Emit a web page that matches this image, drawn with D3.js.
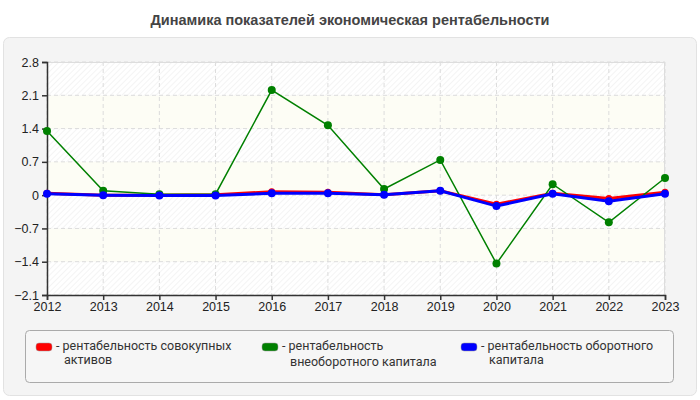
<!DOCTYPE html>
<html>
<head>
<meta charset="utf-8">
<script src="https://cdn.jsdelivr.net/npm/d3@7"></script>
<style>
  body { margin: 0; background: #fff; }
  svg { display: block; font-family: "Liberation Sans", Arial, sans-serif; }
</style>
</head>
<body>
<svg width="700" height="400"></svg>
<script>
// chart data
const years = ["2012", "2013", "2014", "2015", "2016", "2017", "2018", "2019", "2020", "2021", "2022", "2023"];
const totalAssets = [0.04, 0.0, 0.0, 0.01, 0.07, 0.06, 0.01, 0.09, -0.19, 0.04, -0.07, 0.06];
const fixedCapital = [1.35, 0.09, 0.02, 0.02, 2.21, 1.47, 0.13, 0.74, -1.44, 0.23, -0.57, 0.36];
const workingCapital = [0.03, 0.0, -0.01, -0.01, 0.04, 0.04, 0.01, 0.09, -0.23, 0.03, -0.13, 0.03];
const yTicks = [-2.1, -1.4, -0.7, 0, 0.7, 1.4, 2.1, 2.8];
const seriesNames = ["рентабельность совокупных|активов", "рентабельность|внеоборотного капитала", "рентабельность оборотного|капитала"];

const series = [
  { values: totalAssets, color: "#ff0000", width: 3, r: 3.5 },
  { values: fixedCapital, color: "#008000", width: 1.5, r: 4 },
  { values: workingCapital, color: "#0000ff", width: 3, r: 4 }
];

const svg = d3.select("svg");

// hatch pattern for the striped bands
const defs = svg.append("defs");
const pat = defs.append("pattern")
  .attr("id", "hatch")
  .attr("patternUnits", "userSpaceOnUse")
  .attr("width", 4).attr("height", 4)
  .attr("patternTransform", "rotate(45)");
pat.append("rect").attr("width", 4).attr("height", 4).attr("fill", "#ffffff");
pat.append("line").attr("x1", 0).attr("y1", 0).attr("x2", 0).attr("y2", 4)
  .attr("stroke", "#eeeeee").attr("stroke-width", 1.2);

// title
svg.append("text")
  .attr("x", 350).attr("y", 25)
  .attr("text-anchor", "middle")
  .style("font-size", "14.5px").style("font-weight", "bold").style("fill", "#444")
  .text("Динамика показателей экономическая рентабельности");

// outer panel
svg.append("rect")
  .attr("x", 3.5).attr("y", 37.5).attr("width", 693).attr("height", 358)
  .attr("rx", 6)
  .attr("fill", "#f4f4f4").attr("stroke", "#e2e2e2");

const margin = { left: 47, top: 62, right: 35, bottom: 105 };
const w = 700 - margin.left - margin.right;
const h = 400 - margin.top - margin.bottom;

const x = d3.scalePoint().domain(years).range([0, w]);
const y = d3.scaleLinear().domain([-2.1, 2.8]).range([h, 0]);

const graf = svg.append("g").attr("transform", `translate(${margin.left},${margin.top})`);

// alternating bands
d3.pairs(yTicks).forEach((p, i) => {
  graf.append("rect")
    .attr("x", 0).attr("y", y(p[1]))
    .attr("width", w).attr("height", y(p[0]) - y(p[1]))
    .attr("fill", i % 2 === 0 ? "url(#hatch)" : "#fdfdf5");
});

// grid
graf.selectAll(".hgrid").data(yTicks).enter().append("line")
  .attr("x1", 0).attr("x2", w)
  .attr("y1", d => y(d)).attr("y2", d => y(d))
  .attr("stroke", "#dcdcdc").attr("stroke-dasharray", "4,3");
graf.selectAll(".vgrid").data(years).enter().append("line")
  .attr("x1", d => x(d)).attr("x2", d => x(d))
  .attr("y1", 0).attr("y2", h)
  .attr("stroke", "#dcdcdc").attr("stroke-dasharray", "4,3");
graf.append("line").attr("x1", 0).attr("x2", w).attr("y1", 0.5).attr("y2", 0.5).attr("stroke", "#dddddd");
graf.append("line").attr("x1", w - 0.5).attr("x2", w - 0.5).attr("y1", 0).attr("y2", h).attr("stroke", "#dddddd");

// axes
const xAxis = graf.append("g").attr("transform", `translate(0,${h})`)
  .call(d3.axisBottom(x).tickSize(5).tickPadding(2));
const yAxis = graf.append("g")
  .call(d3.axisLeft(y).tickValues(yTicks).tickSize(5).tickPadding(3).tickFormat(d => d3.format("")(+d.toFixed(1))));
[xAxis, yAxis].forEach(a => {
  a.selectAll("path, line").attr("stroke", "#333").attr("stroke-width", 1.5);
  a.selectAll("text").style("font-size", "12.5px").style("fill", "#222")
    .style("font-family", "'Liberation Sans', Arial, sans-serif");
});

// lines and markers
const line = d3.line().x((d, i) => x(years[i])).y(d => y(d));
series.forEach(s => {
  graf.append("path")
    .datum(s.values)
    .attr("d", line)
    .attr("fill", "none")
    .attr("stroke", s.color)
    .attr("stroke-width", s.width);
  graf.selectAll(null).data(s.values).enter().append("circle")
    .attr("cx", (d, i) => x(years[i]))
    .attr("cy", d => y(d))
    .attr("r", s.r)
    .attr("fill", s.color);
});

// legend
svg.append("rect")
  .attr("x", 25.5).attr("y", 330.5).attr("width", 648).attr("height", 52)
  .attr("rx", 4)
  .attr("fill", "#f6f6f6").attr("stroke", "#aaaaaa");
const legendX = [36, 262, 461];
const secondLineY = [23, 25, 23];
seriesNames.forEach((name, i) => {
  const g = svg.append("g").attr("transform", `translate(${legendX[i]},341)`);
  g.append("rect").attr("x", 0).attr("y", 2).attr("width", 16).attr("height", 8)
    .attr("rx", 3).attr("fill", series[i].color).attr("stroke", "#999").attr("stroke-width", 0.5);
  const lines = name.split("|");
  const t = g.append("text").style("font-size", "12.5px").style("fill", "#333")
    .style("font-family", "Roboto, 'Liberation Sans', sans-serif");
  t.append("tspan").attr("x", 20).attr("y", 9).text("- " + lines[0]);
  t.append("tspan").attr("x", 28).attr("y", secondLineY[i]).text(lines[1]);
});
</script>
</body>
</html>
